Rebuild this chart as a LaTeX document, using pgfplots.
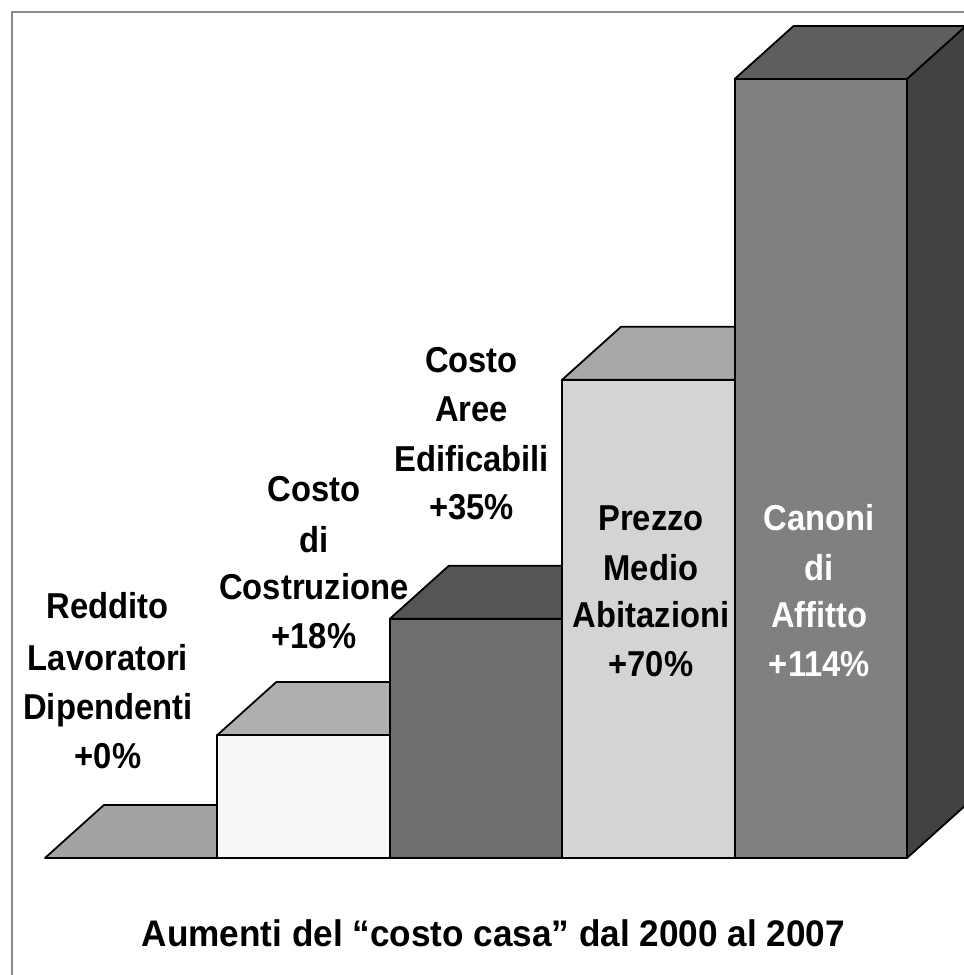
\documentclass[border=0pt]{standalone}
\usepackage{pgfplots}
\pgfplotsset{compat=1.18}
\usepackage{graphicx}
\usepackage{fontspec}
\setmainfont{Liberation Sans}
\definecolor{cAtop}{HTML}{A3A3A3}
\definecolor{cBfront}{HTML}{F7F7F7}
\definecolor{cBtop}{HTML}{AFAFAF}
\definecolor{cCfront}{HTML}{6E6E6E}
\definecolor{cCtop}{HTML}{555555}
\definecolor{cDfront}{HTML}{D4D4D4}
\definecolor{cDtop}{HTML}{A8A8A8}
\definecolor{cEfront}{HTML}{808080}
\definecolor{cEtop}{HTML}{5E5E5E}
\definecolor{cEside}{HTML}{424242}
\definecolor{frame}{HTML}{8A8A8A}
\newcommand{\lab}[1]{\scalebox{0.91}[1]{\bfseries\fontsize{18}{22}\selectfont #1}}
\begin{document}
\begin{tikzpicture}
\path[use as bounding box, fill=white] (0,0) rectangle (482pt,487.5pt);
\begin{axis}[
  at={(0,0)}, anchor=south west,
  width=482pt, height=487.5pt, scale only axis,
  xmin=-0.2610, xmax=5.3306, ymin=-17.124, ymax=125.567,
  axis lines=none, clip=true,
  every axis plot/.append style={draw=black, line width=0.9pt, line join=round, mark=none},
]
% frame
\draw[frame, line width=1pt] (axis cs:-0.191,-20) -- (axis cs:-0.191,123.81) -- (axis cs:5.5,123.81);
% bar 1: Reddito (+0%)
\addplot[fill=cAtop] coordinates {(0,0) (0.342,7.76) (1.342,7.76) (1,0)} -- cycle;
% bar 2: Costo di Costruzione (+18%)
\addplot[fill=cBtop] coordinates {(1,18) (1.342,25.76) (2.342,25.76) (2,18)} -- cycle;
\addplot[fill=cBfront] coordinates {(1,0) (1,18) (2,18) (2,0)} -- cycle;
% bar 3: Costo Aree Edificabili (+35%)
\addplot[fill=cCtop] coordinates {(2,35) (2.342,42.76) (3.342,42.76) (3,35)} -- cycle;
\addplot[fill=cCfront] coordinates {(2,0) (2,35) (3,35) (3,0)} -- cycle;
% bar 4: Prezzo Medio Abitazioni (+70%)
\addplot[fill=cDtop] coordinates {(3,70) (3.342,77.76) (4.342,77.76) (4,70)} -- cycle;
\addplot[fill=cDfront] coordinates {(3,0) (3,70) (4,70) (4,0)} -- cycle;
% bar 5: Canoni di Affitto (+114%)
\addplot[fill=cEtop] coordinates {(4,114) (4.342,121.76) (5.342,121.76) (5,114)} -- cycle;
\addplot[fill=cEside] coordinates {(5,0) (5.342,7.76) (5.342,121.76) (5,114)} -- cycle;
\addplot[fill=cEfront] coordinates {(4,0) (4,114) (5,114) (5,0)} -- cycle;
% labels
\node[anchor=base] at (axis cs:0.365,34.98) {\lab{Reddito}};
\node[anchor=base] at (axis cs:0.365,27.51) {\lab{Lavoratori}};
\node[anchor=base] at (axis cs:0.365,20.20) {\lab{Dipendenti}};
\node[anchor=base] at (axis cs:0.365,13.17) {\lab{+0\%}};
\node[anchor=base] at (axis cs:1.560,52.10) {\lab{Costo}};
\node[anchor=base] at (axis cs:1.560,44.78) {\lab{di}};
\node[anchor=base] at (axis cs:1.560,37.76) {\lab{Costruzione}};
\node[anchor=base] at (axis cs:1.560,30.73) {\lab{+18\%}};
\node[anchor=base] at (axis cs:2.474,70.98) {\lab{Costo}};
\node[anchor=base] at (axis cs:2.474,63.81) {\lab{Aree}};
\node[anchor=base] at (axis cs:2.474,56.49) {\lab{Edificabili}};
\node[anchor=base] at (axis cs:2.474,49.47) {\lab{+35\%}};
\node[anchor=base] at (axis cs:3.515,48.00) {\lab{Prezzo}};
\node[anchor=base] at (axis cs:3.515,40.68) {\lab{Medio}};
\node[anchor=base] at (axis cs:3.515,33.66) {\lab{Abitazioni}};
\node[anchor=base] at (axis cs:3.515,26.49) {\lab{+70\%}};
\node[anchor=base, text=white] at (axis cs:4.492,48.00) {\lab{Canoni}};
\node[anchor=base, text=white] at (axis cs:4.492,40.68) {\lab{di}};
\node[anchor=base, text=white] at (axis cs:4.492,33.66) {\lab{Affitto}};
\node[anchor=base, text=white] at (axis cs:4.492,26.49) {\lab{+114\%}};
% title
\node[anchor=base] at (axis cs:2.601,-13.02) {\scalebox{0.95}[1]{\bfseries\fontsize{18.5}{22}\selectfont Aumenti del “costo casa” dal 2000 al 2007}};
\end{axis}
\end{tikzpicture}
\end{document}
